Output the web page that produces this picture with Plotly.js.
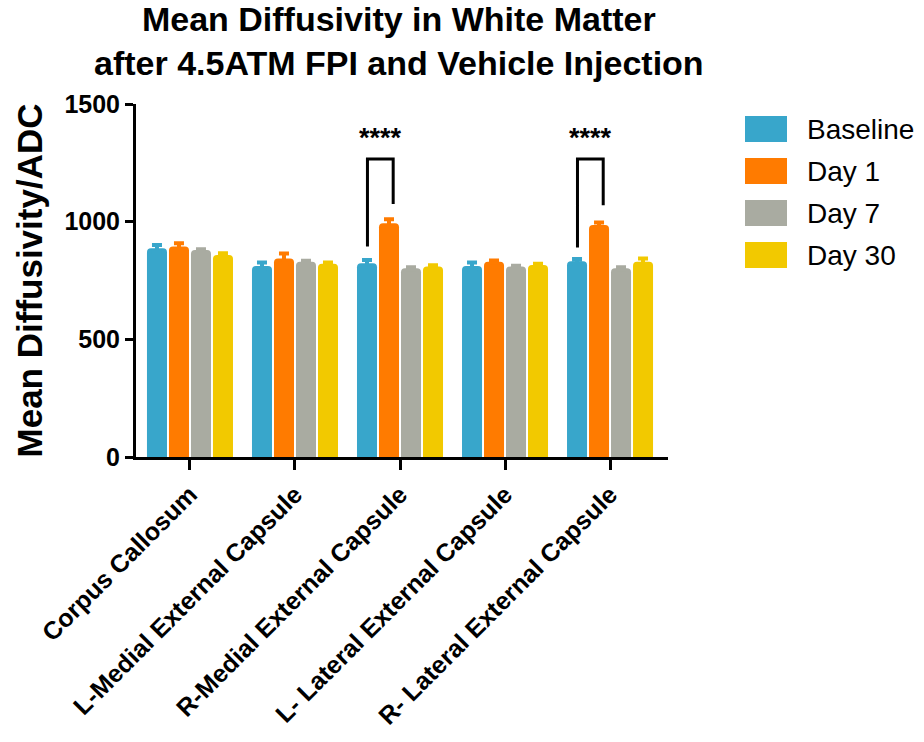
<!DOCTYPE html>
<html>
<head>
<meta charset="utf-8">
<script src="https://cdn.plot.ly/plotly-3.0.1.min.js"></script>
<style>html,body{margin:0;padding:0;background:#fff;}#chart{width:924px;height:742px;}</style>
</head>
<body>
<div id="chart"></div>
<script>
// ---- data ----
const categories = ['Corpus Callosum', 'L-Medial External Capsule', 'R-Medial External Capsule', 'L- Lateral External Capsule', 'R- Lateral External Capsule'];
const seriesNames = ['Baseline', 'Day 1', 'Day 7', 'Day 30'];
const baseline    = [887, 812, 823, 812, 832];
const baselineErr = [14, 15, 14, 14, 9];
const day1        = [894, 844, 993, 830, 986];
const day1Err     = [14, 21, 17, 5, 10];
const day7        = [880, 830, 802, 809, 802];
const day7Err     = [3, 4, 4, 4, 4];
const day30       = [858, 821, 809, 816, 830];
const day30Err    = [8, 6, 6, 5, 14];
const yTicks = [0, 500, 1000, 1500];
const titleLines = ['Mean Diffusivity in White Matter', 'after 4.5ATM FPI and Vehicle Injection'];
const yTitle = 'Mean Diffusivity/ADC';
const sigCategoryIdx = [2, 4];
const sigLabel = '****';
const sigBracketTop = 1266;
const sigLeftBottom = [894, 890];
const sigRightBottom = [1075, 1070];

// ---- styles ----
const colors = ['#38A6CB', '#FF7B00', '#A9ABA1', '#F2C900'];
const FONT = 'Liberation Sans, Arial, Helvetica, sans-serif';
const W = 924, H = 742;
const M = {l: 136, r: 256, t: 104, b: 285};
const pw = W - M.l - M.r, ph = H - M.t - M.b;
const px2x = px => (px - M.l) / pw;
const py2y = py => (H - M.b - py) / ph;

const values = [baseline, day1, day7, day30];
const errs = [baselineErr, day1Err, day7Err, day30Err];
const traces = seriesNames.map((name, i) => ({
  type: 'bar', name: name, x: categories, y: values[i],
  marker: {color: colors[i], cornerradius: 4},
  error_y: {type: 'data', array: errs[i], visible: true, color: colors[i], thickness: 4, width: 5},
  showlegend: false, hoverinfo: 'x+y+name'
}));

const shapes = [];
const annotations = [];
// title
annotations.push({xref: 'paper', yref: 'paper', x: px2x(399), y: py2y(41), xanchor: 'center', yanchor: 'middle',
  text: '<b>' + titleLines.join('<br>') + '</b>', showarrow: false,
  font: {family: FONT, size: 34, color: '#000'}});
// significance brackets
sigCategoryIdx.forEach((c, k) => {
  const xl = c - 0.31, xr = c - 0.065;
  shapes.push({type: 'path', xref: 'x', yref: 'y',
    path: `M ${xl},${sigLeftBottom[k]} L ${xl},${sigBracketTop} L ${xr},${sigBracketTop} L ${xr},${sigRightBottom[k]}`,
    line: {color: '#000', width: 3}});
  annotations.push({xref: 'x', yref: 'y', x: (xl + xr) / 2, y: sigBracketTop + 18, text: '<b>' + sigLabel + '</b>',
    showarrow: false, yanchor: 'bottom', font: {family: FONT, size: 27, color: '#000'}});
});
// custom legend
seriesNames.forEach((name, i) => {
  const top = 116 + i * 42;
  shapes.push({type: 'rect', xref: 'paper', yref: 'paper',
    x0: px2x(745), x1: px2x(787), y0: py2y(top + 26), y1: py2y(top),
    fillcolor: colors[i], line: {width: 0}});
  annotations.push({xref: 'paper', yref: 'paper', x: px2x(805), y: py2y(top + 13), text: name,
    showarrow: false, xanchor: 'left', yanchor: 'middle', font: {family: FONT, size: 28, color: '#000'}});
});

const layout = {
  width: W, height: H, margin: M,
  paper_bgcolor: '#fff', plot_bgcolor: '#fff',
  font: {family: FONT, color: '#000'},
  barmode: 'group', bargap: 0.162, bargroupgap: 0.09,
  showlegend: false,
  xaxis: {type: 'category', range: [-0.514, 4.552], showline: true, linecolor: '#000', linewidth: 3,
    ticks: 'outside', ticklen: 10, tickwidth: 3, tickcolor: '#000', tickangle: -45,
    tickfont: {family: FONT, size: 25, color: '#000'}, showgrid: false, zeroline: false,
    tickprefix: '<b>', ticksuffix: '</b>'},
  yaxis: {range: [0, 1500], tickvals: yTicks, ticktext: yTicks.map(v => '<b>' + v + '</b>'),
    showline: true, linecolor: '#000', linewidth: 3,
    ticks: 'outside', ticklen: 8, tickwidth: 3, tickcolor: '#000',
    tickfont: {family: FONT, size: 25, color: '#000'}, showgrid: false, zeroline: false,
    title: {text: '<b>' + yTitle + '</b>', font: {family: FONT, size: 35, color: '#000'}, standoff: 12}},
  shapes: shapes, annotations: annotations
};

Plotly.newPlot('chart', traces, layout, {displayModeBar: false, staticPlot: true});
</script>
</body>
</html>
